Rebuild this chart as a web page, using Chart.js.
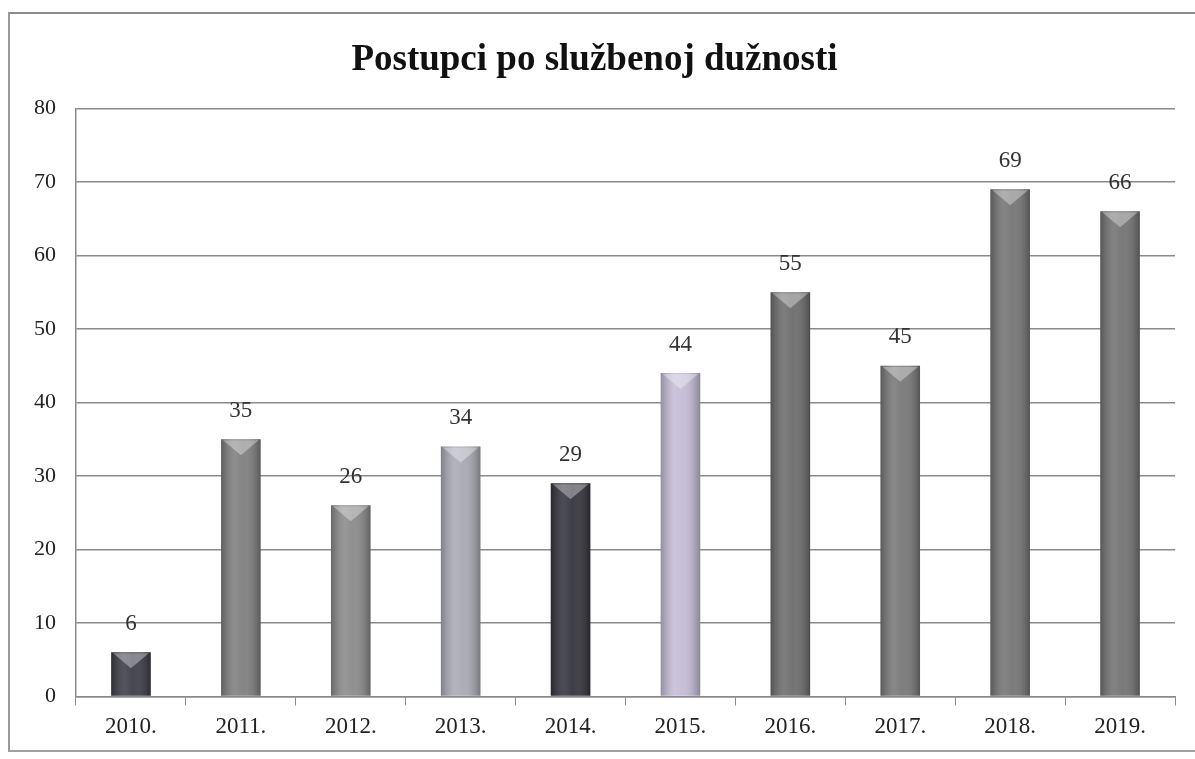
<!DOCTYPE html>
<html>
<head>
<meta charset="utf-8">
<script src="https://cdn.jsdelivr.net/npm/chart.js@4.4.1/dist/chart.umd.min.js"></script>
<style>
  html, body { margin: 0; padding: 0; background: #fff; }
  #okvir {
    position: absolute; left: 8px; top: 12px; width: 1200px; height: 740px;
    border-top: 2px solid #8c8c8c; border-left: 2px solid #9a9a9a; border-bottom: 2px solid #a0a0a0;
    box-sizing: border-box;
  }
  #wrap { position: absolute; left: 0; top: 0; width: 1195px; height: 759px; }
</style>
</head>
<body>
<div id="okvir"></div>
<div id="wrap"><canvas id="myChart"></canvas></div>
<script>
/* podaci */
const godine = ['2010.', '2011.', '2012.', '2013.', '2014.', '2015.', '2016.', '2017.', '2018.', '2019.'];
const postupci = [6, 35, 26, 34, 29, 44, 55, 45, 69, 66];
const boje = ['#3c3c46', '#7e7e7e', '#8a8a8a', '#a9a9b3', '#33333b', '#c4bcd6', '#6c6c6c', '#777777', '#747474', '#727272'];
const yTicks = [0, 10, 20, 30, 40, 50, 60, 70, 80];

const ctx = document.getElementById('myChart');

// oznake vrijednosti i "sjaj" na stupcima
const stupciPlugin = {
  id: 'stupci',
  afterDatasetsDraw(chart) {
    const c = chart.ctx;
    const meta = chart.getDatasetMeta(0);
    meta.data.forEach(function (bar, i) {
      const x = bar.x, y = bar.y, w = bar.width, b = bar.base;
      const left = x - w / 2;
      // svjetlija sredina, tamniji rubovi
      const g = c.createLinearGradient(left, 0, left + w, 0);
      g.addColorStop(0, 'rgba(0,0,0,0.25)');
      g.addColorStop(0.35, 'rgba(255,255,255,0.12)');
      g.addColorStop(0.55, 'rgba(255,255,255,0.05)');
      g.addColorStop(1, 'rgba(0,0,0,0.3)');
      c.save();
      c.fillStyle = g;
      c.fillRect(left, y, w, b - y);
      // trokut na vrhu
      c.fillStyle = 'rgba(255,255,255,0.35)';
      c.beginPath();
      c.moveTo(left + 2, y + 1);
      c.lineTo(left + w - 2, y + 1);
      c.lineTo(x, y + 16);
      c.closePath();
      c.fill();
      // vrijednost
      c.fillStyle = '#333';
      c.font = '23px "Liberation Serif"';
      c.textAlign = 'center';
      c.textBaseline = 'bottom';
      c.fillText(postupci[i], x, y - 17);
      c.restore();
    });
  }
};

new Chart(ctx, {
  type: 'bar',
  data: {
    labels: godine,
    datasets: [{
      label: 'Postupci',
      data: postupci,
      backgroundColor: boje,
      borderWidth: 0,
      barPercentage: 0.72,
      categoryPercentage: 0.5
    }]
  },
  options: {
    responsive: true,
    maintainAspectRatio: false,
    animation: false,
    layout: { padding: { left: 14, right: 20, top: 38, bottom: 10 } },
    plugins: {
      legend: { display: false },
      tooltip: { enabled: false },
      title: {
        display: true,
        text: 'Postupci po službenoj dužnosti',
        color: '#111',
        font: { family: '"Liberation Serif"', size: 37, weight: 'bold' },
        padding: { top: 0, bottom: 26 }
      }
    },
    scales: {
      y: {
        min: 0,
        max: 80,
        afterBuildTicks(axis) { axis.ticks = yTicks.map(v => ({ value: v })); },
        ticks: { color: '#222', font: { family: '"Liberation Serif"', size: 22 }, padding: 20 },
        grid: { color: '#8a8a8a', lineWidth: 1.5, drawTicks: false },
        border: { display: true, color: '#8a8a8a', width: 1.5 }
      },
      x: {
        ticks: { color: '#222', font: { family: '"Liberation Serif"', size: 23 }, padding: 8 },
        grid: { display: true, drawOnChartArea: false, drawTicks: true, tickLength: 9, color: '#8a8a8a', offset: true },
        border: { display: true, color: '#8a8a8a', width: 1.5 }
      }
    }
  },
  plugins: [stupciPlugin]
});
</script>
</body>
</html>
